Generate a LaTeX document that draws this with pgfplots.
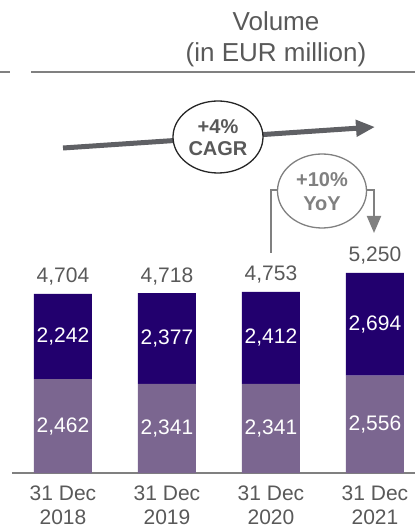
\documentclass[border=0pt]{standalone}
\usepackage{pgfplots}
\pgfplotsset{compat=1.18}
\usepackage{fontspec}
\setmainfont{Liberation Sans}
\usetikzlibrary{arrows.meta}
\definecolor{darkp}{HTML}{22006E}
\definecolor{lightp}{HTML}{7B6690}
\definecolor{txtg}{HTML}{595959}
\definecolor{lineg}{HTML}{808080}
\definecolor{arrg}{HTML}{5F6064}
\tikzset{lab/.style={font=\fontsize{21}{24}\selectfont}}
\begin{document}
\begin{tikzpicture}
\path[use as bounding box] (0pt,0pt) rectangle (415pt,530pt);
\begin{axis}[
  at={(12pt,57pt)}, anchor=south west,
  scale only axis, width=403pt, height=457.2pt,
  xmin=-0.49, xmax=3.385, ymin=0, ymax=12000,
  ybar stacked, bar width=58pt,
  axis x line=bottom, axis y line=none,
  x axis line style={-, draw=lineg, line width=1.5pt},
  xtick={0,1,2,3},
  xticklabels={31 Dec\\2018,31 Dec\\2019,31 Dec\\2020,31 Dec\\2021},
  major tick length=0pt,
  xticklabel style={align=center, font=\fontsize{21}{24}\selectfont, text=txtg, yshift=-9pt},
  clip=false,
]
\addplot[fill=lightp, draw=none] coordinates {(0,2462) (1,2341) (2,2341) (3,2556)};
\addplot[fill=darkp, draw=none] coordinates {(0,2242) (1,2377) (2,2412) (3,2694)};
\coordinate (l0) at (axis cs:0,1231);
\coordinate (l1) at (axis cs:1,1170.5);
\coordinate (l2) at (axis cs:2,1170.5);
\coordinate (l3) at (axis cs:3,1278);
\coordinate (u0) at (axis cs:0,3583);
\coordinate (u1) at (axis cs:1,3529.5);
\coordinate (u2) at (axis cs:2,3547);
\coordinate (u3) at (axis cs:3,3903);
\coordinate (t0) at (axis cs:0,4704);
\coordinate (t1) at (axis cs:1,4718);
\coordinate (t2) at (axis cs:2,4753);
\coordinate (t3) at (axis cs:3,5250);
\end{axis}
\node[lab, text=white] at (l0) {2,462};
\node[lab, text=white] at (l1) {2,341};
\node[lab, text=white] at (l2) {2,341};
\node[lab, text=white] at (l3) {2,556};
\node[lab, text=white] at (u0) {2,242};
\node[lab, text=white] at (u1) {2,377};
\node[lab, text=white] at (u2) {2,412};
\node[lab, text=white] at (u3) {2,694};
\node[lab, text=txtg, anchor=south, yshift=5pt] at (t0) {4,704};
\node[lab, text=txtg, anchor=south, yshift=5pt] at (t1) {4,718};
\node[lab, text=txtg, anchor=south, yshift=5pt] at (t2) {4,753};
\node[lab, text=txtg, anchor=south, yshift=5pt] at (t3) {5,250};
% title
\node[text=txtg, align=center, font=\fontsize{26}{31}\selectfont] at (276pt,491pt) {Volume\\(in EUR million)};
% rule
\draw[lineg, line width=2pt] (0pt,458pt) -- (10pt,458pt);
\draw[lineg, line width=2pt] (31pt,458pt) -- (415pt,458pt);
% CAGR arrow
\draw[arrg, line width=5pt, -{Triangle[length=19pt,width=16pt]}] (63pt,382pt) -- (375pt,403pt);
\draw[draw=black!85, line width=1.3pt, fill=white] (218pt,393pt) ellipse [x radius=45pt, y radius=36pt];
\node[text=txtg, align=center, font=\bfseries\fontsize{20}{22}\selectfont] at (218pt,392pt) {+4\%\\CAGR};
% YoY bracket
\draw[lineg, line width=2pt] (271pt,277pt) -- (271pt,340pt) -- (279pt,340pt);
\draw[lineg, line width=2pt, -{Triangle[length=17pt,width=14pt]}] (366pt,340pt) -- (374pt,340pt) -- (374pt,297pt);
\draw[draw=lineg, line width=1.3pt, fill=white] (322pt,339pt) ellipse [x radius=44.5pt, y radius=37pt];
\node[text=lineg, align=center, font=\bfseries\fontsize{20}{24}\selectfont] at (322pt,338pt) {+10\%\\YoY};
\end{tikzpicture}
\end{document}
